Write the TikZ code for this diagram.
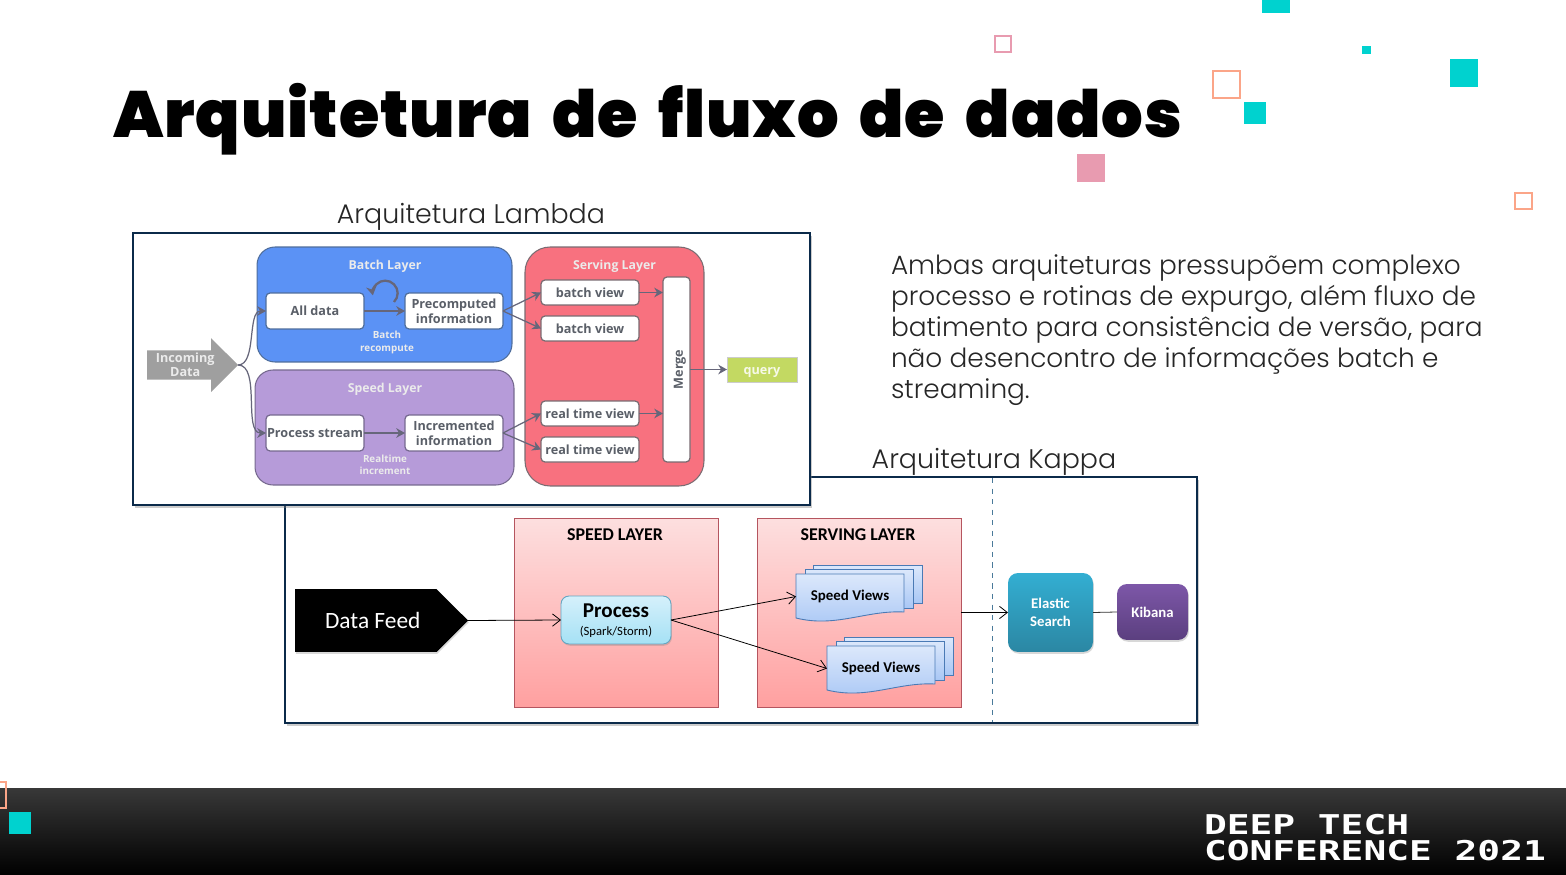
\documentclass[tikz,border=0pt]{standalone}
\usepackage{fontspec}
\usepackage{tikz}
\usetikzlibrary{arrows.meta,shadows,shapes.arrows,shapes.symbols}
\setmainfont{Poppins}
\newfontfamily\titlefont[LetterSpace=1.4,WordSpace=1.7]{Poppins Black}
\newfontfamily\bodyfont{Poppins Light}
\newfontfamily\lambdafont{Open Sans}
\newfontfamily\kappafont{Carlito}
\newfontfamily\logofont[FakeStretch=1.39]{DejaVu Sans Mono}
\definecolor{teal1}{HTML}{00D2CF}
\definecolor{pink1}{HTML}{E89BB0}
\definecolor{orange1}{HTML}{FBA588}
\definecolor{navy1}{HTML}{0B2A4A}
\definecolor{ink1}{HTML}{5A5F68}
\definecolor{batch1}{HTML}{5B92F5}
\definecolor{speed1}{HTML}{B69BD9}
\definecolor{serve1}{HTML}{F8717F}
\definecolor{query1}{HTML}{C3D962}
\definecolor{edgeb}{HTML}{4F6E9C}
\definecolor{edges}{HTML}{76698F}
\definecolor{edgev}{HTML}{7A6C72}
\definecolor{wire1}{HTML}{66667A}
\definecolor{sheetline}{HTML}{4A7AB5}
\definecolor{sheettop}{HTML}{DCE8FB}
\definecolor{sheetbot}{HTML}{A9C7F5}
\definecolor{redtop}{HTML}{FDDFDF}
\definecolor{redbot}{HTML}{FFA0A0}
\definecolor{redline}{HTML}{B5555F}
\definecolor{proctop}{HTML}{D5F0FB}
\definecolor{procbot}{HTML}{A5E1F5}
\definecolor{elastictop}{HTML}{33AED2}
\definecolor{elasticbot}{HTML}{2B87A3}
\definecolor{kibanatop}{HTML}{7D57A8}
\definecolor{kibanabot}{HTML}{5B3F7F}
\definecolor{dash1}{HTML}{4A7A9A}
\tikzset{
  every node/.style={inner sep=0pt,outer sep=0pt},
  frame1/.style={draw=navy1,line width=1.1pt,fill=white,drop shadow={shadow xshift=1pt,shadow yshift=-1.5pt,opacity=0.4}},
  heading1/.style={font=\bodyfont\fontsize{15.3}{18}\selectfont,text=black!85},
  layer1/.style={draw=#1,line width=0.6pt,rounded corners=0.36cm},
  ltitle/.style={font=\lambdafont\bfseries\fontsize{7}{8.5}\selectfont,text=white!92!black,align=center},
  lnote/.style={ltitle,font=\lambdafont\bfseries\fontsize{5.6}{7}\selectfont},
  lbox/.style={draw=#1,line width=0.7pt,fill=white,rounded corners=0.08cm,minimum width=1.96cm,minimum height=0.72cm,align=center,font=\lambdafont\bfseries\fontsize{7.2}{8.6}\selectfont,text=ink1},
  vbox/.style={lbox=#1,minimum height=0.5cm},
  lconn/.style={draw=#1,line width=0.7pt,-{Stealth[length=5pt,width=5.5pt]}},
  klayer/.style={draw=redline,line width=0.5pt,top color=redtop,bottom color=redbot,minimum width=4.08cm,minimum height=3.78cm},
  ktitle/.style={font=\kappafont\bfseries\fontsize{10.2}{12}\selectfont,text=black},
  kconn/.style={draw=black,line width=0.45pt,-{Straight Barb[length=4.5pt,width=7pt]}},
  sheet/.style={draw=sheetline,line width=0.5pt,top color=sheettop,bottom color=sheetbot},
  kbtn/.style={rounded corners=0.2cm,drop shadow={shadow xshift=0.5pt,shadow yshift=-1pt,opacity=0.3},text=white,align=center,font=\kappafont\bfseries\fontsize{8.4}{10.4}\selectfont},
}
\newcommand{\lowered}[1]{\raisebox{-2.6pt}[0pt][0pt]{#1}}
\newcommand{\viewstack}[3]{
  \begin{scope}[shift={(#2,#3)}]
    \draw [sheet] (17,9) rectangle (126,-29);
    \draw [sheet] (9,5) rectangle (117,-34);
    \draw [sheet] (0,0) -- (108,0) -- (108,-38) .. controls (70,-36) and (40,-54) .. (0,-44) -- cycle;
    \node [minimum width=2.16cm,minimum height=0.88cm,font=\kappafont\bfseries\fontsize{8.5}{9}\selectfont] (#1) at (54,-22.5) {Speed Views};
  \end{scope}
}
\begin{document}
\begin{tikzpicture}[x=0.02cm,y=0.02cm]
  \useasboundingbox (0,0) rectangle (1566,-875);
  \fill [teal1] (1262,0) rectangle (1290,-13);
  \fill [teal1] (1362,-46) rectangle (1371,-54);
  \fill [teal1] (1450,-59) rectangle (1478,-87);
  \fill [teal1] (1244,-102) rectangle (1266,-124);
  \fill [pink1] (1077,-154) rectangle (1105,-182);
  \draw [pink1,line width=1.1pt] (995,-36) rectangle (1011,-52);
  \draw [orange1,line width=1.1pt] (1213,-71) rectangle (1240,-98);
  \draw [orange1,line width=1.1pt] (1515,-193) rectangle (1532,-209);
  \node [anchor=base west,font=\titlefont\fontsize{37.2}{44}\selectfont] (title) at (113,-137) {Arquitetura de fluxo de dados};
  \node [heading1,anchor=base] (lambdahead) at (471,-223) {Arquitetura Lambda};
  \node [heading1,anchor=base] (kappahead) at (994,-468) {Arquitetura Kappa};
  \node [anchor=north west,align=left,font=\bodyfont\fontsize{15}{17.65}\selectfont,text=black!85] (bodytext) at (891,-255) {Ambas arquiteturas pressupõem complexo\\processo e rotinas de expurgo, além fluxo de\\batimento para consistência de versão, para\\não desencontro de informações batch e\\streaming.};

  \node [frame1,minimum width=18.24cm,minimum height=4.92cm] (kappaframe) at (741,-600) {};
  \coordinate (dashtop) at (992,-478);
  \coordinate (dashbottom) at (992,-722);
  \draw [dash1,dashed,line width=0.5pt] (dashtop) -- (dashbottom);
  \node [klayer] (speedlayerk) at (616,-612.5) {};
  \node [klayer] (servinglayerk) at (859.5,-612.5) {};
  \node [ktitle] (speedtitle) at (615,-534.5) {SPEED LAYER};
  \node [ktitle] (servingtitle) at (858,-534.5) {SERVING LAYER};
  \node [signal,signal to=east,signal pointer angle=90,fill=black,text=white,anchor=east,minimum width=3.46cm,minimum height=1.26cm,font=\kappafont\fontsize{13.3}{15}\selectfont,drop shadow={shadow xshift=0.5pt,shadow yshift=-1pt,opacity=0.3}] (datafeed) at (468,-620.5) {\hspace*{0.28cm}Data Feed};
  \node [draw=cyan!50!gray,line width=0.5pt,rounded corners=0.16cm,top color=proctop,bottom color=procbot,minimum width=2.2cm,minimum height=0.96cm,drop shadow={shadow xshift=0.5pt,shadow yshift=-1pt,opacity=0.3}] (process) at (616,-620) {};
  \node [font=\kappafont\bfseries\fontsize{12}{12}\selectfont] (processname) at (616,-611) {Process};
  \node [font=\kappafont\fontsize{7.2}{9}\selectfont] (processtool) at (616,-632) {(Spark/Storm)};
  \viewstack{viewsa}{796}{-574}
  \viewstack{viewsb}{827}{-646}
  \node [kbtn,top color=elastictop,bottom color=elasticbot,minimum width=1.7cm,minimum height=1.58cm] (elastic) at (1050.5,-612.5) {Elastic\\Search};
  \node [kbtn,top color=kibanatop,bottom color=kibanabot,minimum width=1.42cm,minimum height=1.12cm] (kibana) at (1152.5,-612) {Kibana};
  \draw [kconn] (datafeed.east) -- (process.west);
  \draw [kconn] (process.east) -- (viewsa.west);
  \draw [kconn] (process.east) -- (viewsb.west);
  \draw [kconn] (servinglayerk.east) -- (elastic.west);
  \draw [draw=black!80,line width=0.45pt] (elastic.east) -- (kibana.west);

  \node [frame1,minimum width=13.54cm,minimum height=5.44cm] (lambdaframe) at (471.5,-369) {};
  \node [layer1=edgeb,fill=batch1,minimum width=5.1cm,minimum height=2.3cm] (batchlayer) at (384.5,-304.5) {};
  \node [layer1=edges,fill=speed1,minimum width=5.18cm,minimum height=2.3cm] (speedlayerl) at (384.5,-427.5) {};
  \node [layer1=edgev,fill=serve1,rounded corners=0.5cm,minimum width=3.58cm,minimum height=4.78cm] (servinglayerl) at (614.5,-366.5) {};
  \node [ltitle] (batchtitle) at (385,-266) {Batch Layer};
  \node [ltitle] (speedltitle) at (385,-389) {Speed Layer};
  \node [ltitle] (servingltitle) at (614.5,-266) {Serving Layer};
  \node [lnote] (batchnote) at (387,-342.5) {Batch\\recompute};
  \node [lnote] (realtimenote) at (385,-465) {Realtime\\increment};
  \node [lbox=edgeb] (alldata) at (315,-311) {\lowered{All data}};
  \node [lbox=edgeb] (precomputed) at (454,-311) {Precomputed\\information};
  \node [lbox=edges] (stream) at (315,-433) {\lowered{Process stream}};
  \node [lbox=edges] (incremented) at (454,-433) {Incremented\\information};
  \node [vbox=edgev] (batcha) at (590,-292.5) {\lowered{batch view}};
  \node [vbox=edgev] (batchb) at (590,-328.5) {\lowered{batch view}};
  \node [vbox=edgev] (realtimea) at (590,-413.5) {\lowered{real time view}};
  \node [vbox=edgev] (realtimeb) at (590,-449.5) {\lowered{real time view}};
  \node [lbox=edgev,minimum width=0.54cm,minimum height=3.7cm] (merge) at (676.5,-369.5) {\hspace*{3.7pt}\rotatebox{90}{Merge}};
  \node [fill=query1,draw=gray!40,line width=0.4pt,minimum width=1.4cm,minimum height=0.5cm,font=\lambdafont\bfseries\fontsize{7.2}{8.6}\selectfont,text=white!85!query1] (query) at (762,-369.5) {\lowered{query}};
  \node [single arrow,anchor=tip,fill=gray!75,text=white!92!black,align=center,minimum height=1.82cm,minimum width=1.08cm,single arrow head extend=0.21cm,font=\lambdafont\bfseries\fontsize{7.2}{8}\selectfont] (incoming) at (238,-365) {Incoming\\Data};
  \draw [lconn=wire1] (incoming.tip) to[out=0,in=180,looseness=0.8] (alldata.west);
  \draw [lconn=wire1] (incoming.tip) to[out=0,in=180,looseness=0.8] (stream.west);
  \draw [lconn=wire1] (alldata.east) -- (precomputed.west);
  \draw [lconn=wire1] (stream.east) -- (incremented.west);
  \draw [lconn=wire1] (precomputed.east) -- (batcha.west);
  \draw [lconn=wire1] (precomputed.east) -- (batchb.west);
  \draw [lconn=wire1] (incremented.east) -- (realtimea.west);
  \draw [lconn=wire1] (incremented.east) -- (realtimeb.west);
  \draw [lconn=wire1] (batcha.east) -- (batcha.east -| merge.west);
  \draw [lconn=wire1] (realtimea.east) -- (realtimea.east -| merge.west);
  \draw [lconn=wire1] (merge.east) -- (query.west);
  \coordinate (loopstart) at (394,-302);
  \draw [draw=wire1,line width=1.3pt,-{Stealth[length=5pt,width=6pt]}] (loopstart) arc (-45:190:12.5);

  \shade [top color=black!78,bottom color=black] (0,-788) rectangle (1566,-875);
  \draw [orange1,line width=1pt] (-8,-782) rectangle (6,-808);
  \fill [teal1] (9,-812) rectangle (31,-834);
  \node [anchor=base west,align=left,text=white,font=\logofont\bfseries\fontsize{15.5}{14.5}\selectfont] (logo) at (1204,-860) {DEEP TECH\\CONFERENCE 2021};
\end{tikzpicture}
\end{document}
